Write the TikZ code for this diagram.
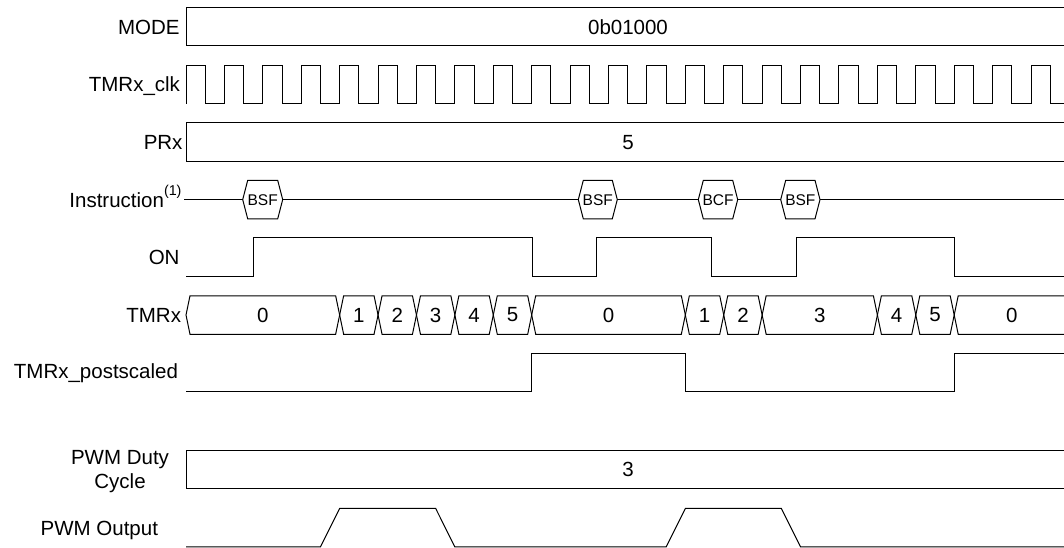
\documentclass[tikz,border=0pt]{standalone}
\usepackage{fontspec}
\setmainfont{Liberation Sans}
\usetikzlibrary{calc}

\tikzset{
  sig/.style={anchor=base east,inner sep=0pt,font=\fontsize{20.5}{24.4}\selectfont},
  val/.style={inner sep=0pt,font=\fontsize{20.5}{24.4}\selectfont},
  op/.style={inner sep=0pt,font=\fontsize{15.5}{17}\selectfont},
}

\begin{document}
\begin{tikzpicture}[x=1pt,y=-1pt,line width=1pt]
\def\T{38.41} % clock period
\def\xs{186}  % left end of traces
\def\xe{1070} % right end
\def\h{19.25} % half height of a trace
\def\s{4}     % slant of bus edges
\useasboundingbox (0,0) rectangle (1064,548);

\begin{scope}[shift={(0,26.75)}] %MODE
\node[sig] (mode) at (180,7.3) {MODE};
\draw (\xe,-\h) -- (\xs,-\h) -- (\xs,\h) -- (\xe,\h);
\node[val] (modeval) at (628,0) {0b01000};
\end{scope}

\begin{scope}[shift={(0,84.5)}] %TMRx_clk
\node[sig] (clk) at (180.5,7.3) {TMRx\_clk};
\draw (\xs,\h) \foreach \k in {0,...,22}{ -- ++(0,-2*\h) -- ++(\T/2,0) -- ++(0,2*\h) -- ++(\T/2,0)};
\end{scope}

\begin{scope}[shift={(0,142.2)}] %PRx
\node[sig] (prx) at (183,7.3) {PRx};
\draw (\xe,-\h) -- (\xs,-\h) -- (\xs,\h) -- (\xe,\h);
\node[val] (prxval) at (628,0) {5};
\end{scope}

\begin{scope}[shift={(0,199.6)}] %Instruction
\node[sig] (instr) at (182,7.7) {Instruction\raisebox{11.5pt}{\fontsize{14.3}{16}\selectfont(1)}};
\draw (184,0) -- (\xe,0);
\foreach \a/\b/\t [count=\i] in {242.7/282.7/BSF,578.3/617.3/BSF,698.3/737.7/BCF,780.7/820/BSF}{
 \draw[fill=white] (\a,0) -- (\a+5,-\h) -- (\b-5,-\h) -- (\b,0) -- (\b-5,\h) -- (\a+5,\h) -- cycle;
 \node[op] (op\i) at ({(\a+\b)/2},0.5) {\t};
}
\end{scope}

\begin{scope}[shift={(0,257.2)}] %ON
\node[sig] (on) at (180,7.3) {ON};
\draw (\xs,\h) -| (253.7,-\h) -| (532,\h) -| (596.3,-\h) -| (711.7,\h) -| (796.3,-\h) -| (954.7,\h) -- (\xe,\h);
\end{scope}

\begin{scope}[shift={(0,315)}] %TMRx
\node[sig] (tmr) at (181.5,7.3) {TMRx};
\foreach \a/\b/\v [count=\i] in {0/4/0,4/5/1,5/6/2,6/7/3,7/8/4,8/9/5,9/13/0,13/14/1,14/15/2,15/18/3,18/19/4,19/20/5,20/23/0}{
 \draw (\xs+\a*\T,0) -- (\xs+\a*\T+\s,-\h) -- (\xs+\b*\T-\s,-\h) -- (\xs+\b*\T,0)
  -- (\xs+\b*\T-\s,\h) -- (\xs+\a*\T+\s,\h) -- cycle;
 \node[val] (cnt\i) at ({\xs+(\a+\b)*\T/2},0) {\v};
}
\end{scope}

\begin{scope}[shift={(0,372.7)}] %TMRx_postscaled
\node[sig] (post) at (178.5,5.7) {TMRx\_postscaled};
\draw (\xs,\h) -| (\xs+9*\T,-\h) -| (\xs+13*\T,\h) -| (\xs+20*\T,-\h) -- (\xe,-\h);
\end{scope}

\begin{scope}[shift={(0,469.6)}] %PWM Duty Cycle
\node[sig,anchor=north east,align=center] (duty) at (169.5,-20) {PWM Duty\\Cycle};
\draw (\xe,-\h) -- (\xs,-\h) -- (\xs,\h) -- (\xe,\h);
\node[val] (dutyval) at (628,0) {3};
\end{scope}

\begin{scope}[shift={(0,527.7)}] %PWM Output
\node[sig] (pwm) at (158.5,7.8) {PWM Output};
\draw (\xs,\h) -- (\xs+3.5*\T,\h) -- (\xs+4*\T,-\h) -- (\xs+6.5*\T,-\h) -- (\xs+7*\T,\h)
 -- (\xs+12.5*\T,\h) -- (\xs+13*\T,-\h) -- (\xs+15.5*\T,-\h) -- (\xs+16*\T,\h) -- (\xe,\h);
\end{scope}

\end{tikzpicture}
\end{document}
